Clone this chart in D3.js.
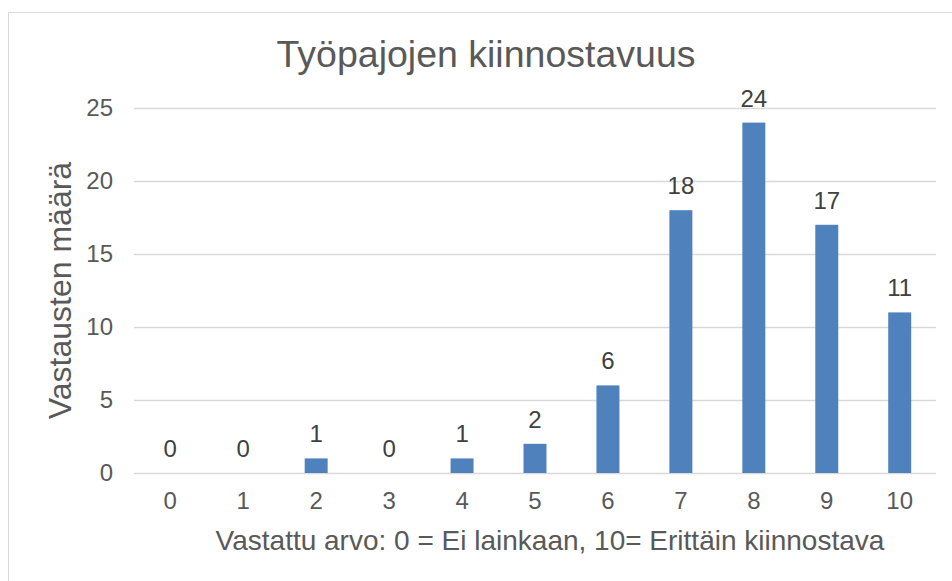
<!DOCTYPE html>
<html>
<head>
<meta charset="utf-8">
<script src="https://cdn.jsdelivr.net/npm/d3@7"></script>
<style>
  body { margin: 0; background: #fff; }
  svg { display: block; font-family: "Liberation Sans", Arial, sans-serif; }
</style>
</head>
<body>
<svg></svg>
<script>
const categories = ['0', '1', '2', '3', '4', '5', '6', '7', '8', '9', '10'];
const counts = [0, 0, 1, 0, 1, 2, 6, 18, 24, 17, 11];
const yTicks = [0, 5, 10, 15, 20, 25];

const title = 'Työpajojen kiinnostavuus';
const xTitle = 'Vastattu arvo: 0 = Ei lainkaan, 10= Erittäin kiinnostava';
const yTitle = 'Vastausten määrä';

const [width, height] = [952, 581];
const margin = {top: 108, right: 16, bottom: 108, left: 134};

const svg = d3.select('svg')
  .attr('width', width)
  .attr('height', height);

// chart border (right/bottom edges fall outside the picture)
svg.append('rect')
  .attr('x', 8.5)
  .attr('y', 12.5)
  .attr('width', width)
  .attr('height', height)
  .attr('fill', 'none')
  .attr('stroke', '#d9d9d9');

const x = d3.scaleBand()
  .domain(categories)
  .range([margin.left, width - margin.right])
  .paddingInner(0.685)
  .paddingOuter(0.34);

const y = d3.scaleLinear()
  .domain([0, 25])
  .range([height - margin.bottom, margin.top]);

// gridlines
svg.append('g')
  .selectAll('line')
  .data(yTicks)
  .join('line')
  .attr('x1', margin.left)
  .attr('x2', width - margin.right)
  .attr('y1', d => Math.round(y(d)) + 0.5)
  .attr('y2', d => Math.round(y(d)) + 0.5)
  .attr('stroke', '#d9d9d9')
  .attr('stroke-width', 1.5);

// y axis labels
{
  const g = svg.append('g')
    .attr('transform', `translate(${margin.left},0)`)
    .call(d3.axisLeft(y).tickValues(yTicks).tickSize(0).tickPadding(21));
  g.select('.domain').remove();
  g.selectAll('text')
    .attr('font-family', '"Liberation Sans", Arial, sans-serif')
    .attr('font-size', 24)
    .attr('fill', '#595959');
}

// x axis labels
{
  const g = svg.append('g')
    .attr('transform', `translate(0,${height - margin.bottom})`)
    .call(d3.axisBottom(x).tickSize(0).tickPadding(19));
  g.select('.domain').remove();
  g.selectAll('text')
    .attr('font-family', '"Liberation Sans", Arial, sans-serif')
    .attr('font-size', 24)
    .attr('fill', '#595959');
}

const data = categories.map((c, i) => ({cat: c, value: counts[i]}));

svg.append('g')
  .selectAll('rect')
  .data(data)
  .join('rect')
  .attr('x', d => x(d.cat))
  .attr('width', x.bandwidth())
  .attr('y', d => y(d.value))
  .attr('height', d => y(0) - y(d.value))
  .attr('fill', '#4f81bd');

svg.append('g')
  .selectAll('text')
  .data(data)
  .join('text')
  .attr('x', d => x(d.cat) + x.bandwidth() / 2)
  .attr('y', d => y(d.value) - 16)
  .attr('text-anchor', 'middle')
  .attr('font-size', 24)
  .attr('fill', '#404040')
  .text(d => d.value);

svg.append('text')
  .attr('x', 486)
  .attr('y', 67)
  .attr('text-anchor', 'middle')
  .attr('font-size', 37.5)
  .attr('fill', '#595959')
  .text(title);

svg.append('text')
  .attr('x', 550)
  .attr('y', 550)
  .attr('text-anchor', 'middle')
  .attr('font-size', 28)
  .attr('fill', '#595959')
  .text(xTitle);

svg.append('text')
  .attr('transform', `translate(71,${(margin.top + height - margin.bottom) / 2}) rotate(-90)`)
  .attr('text-anchor', 'middle')
  .attr('font-size', 32)
  .attr('fill', '#595959')
  .text(yTitle);
</script>
</body>
</html>
